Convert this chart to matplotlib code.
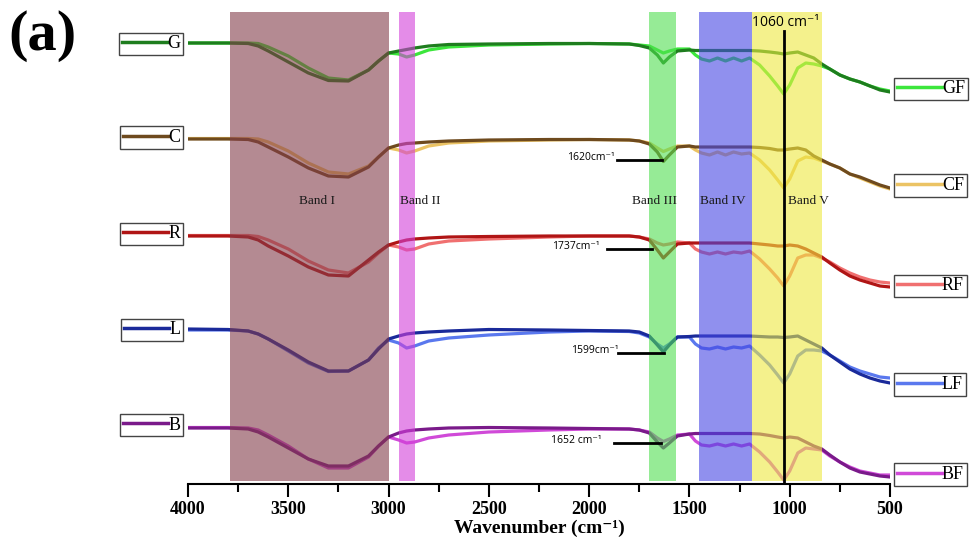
import matplotlib
matplotlib.use("Agg")
import matplotlib.pyplot as plt
from matplotlib.lines import Line2D
from matplotlib.ticker import MultipleLocator

# wavenumber grid (cm-1) shared by all spectra
wn = [4000, 3800, 3700, 3650, 3600, 3500, 3400, 3300, 3200, 3100, 3050, 3000,
      2950, 2910, 2870, 2800, 2700, 2500, 2200, 2000, 1800, 1750, 1700, 1660,
      1630, 1600, 1560, 1500, 1470, 1440, 1400, 1360, 1320, 1280, 1240, 1200,
      1150, 1100, 1060, 1030, 1000, 960, 920, 880, 840, 800, 750, 700, 650,
      600, 550, 500]

# stacked spectra, offset units (larger = lower on the plot)
G = [43, 43, 43.5, 46, 51, 62, 73, 80.5, 81, 70, 61, 53,
     51, 49.5, 48, 46, 44.5, 44, 43.5, 43.5, 44, 45.5, 48, 55,
     63, 57, 51, 50, 50.5, 50.5, 50.5, 50.5, 50.5, 50.5, 50.5, 50.5,
     51, 52, 53, 54, 53, 52, 55, 58, 64, 69, 75, 79, 82,
     86, 90, 92]
GF = [43, 43, 43, 43.5, 47, 56, 68, 78, 80, 70, 61, 53,
      54, 57, 55, 50, 47, 45, 44, 43.5, 44, 45, 46, 50,
      53, 51, 49, 49, 55, 59, 61, 58, 61, 58, 61, 58,
      65, 76, 86, 94, 85, 68, 63, 64, 66, 69, 75, 79, 82,
      86, 89, 91]
C = [139, 139, 139.5, 142, 147, 157, 168, 176, 177, 167, 157, 148,
     145, 143.5, 143, 142, 141, 140, 139.5, 139.5, 140, 141, 144, 152,
     161.5, 155, 147, 146, 147, 147, 147, 147, 147, 147, 147, 147,
     147.5, 148.5, 150, 150, 149, 148, 150, 156, 160, 164, 168, 174, 177,
     181, 185, 188]
CF = [138.5, 138.5, 138.5, 139, 142, 151, 163, 172, 174, 166, 157, 148,
      150, 153, 151, 146, 143, 141, 140, 139.5, 140, 141, 143, 148,
      151.5, 149, 146, 146, 150, 153, 155, 152, 155, 152, 154, 153,
      160, 170, 180, 188, 179, 161, 157, 158, 161, 164, 168, 174, 178,
      182, 186, 189]
R = [236, 236, 237, 240, 246, 256, 267, 275, 276, 260, 252, 245,
     242, 240, 239, 238, 237, 236.5, 236, 236, 236, 237, 240, 250,
     258, 252, 244, 243, 243, 243, 243, 243, 243, 243, 243, 243,
     244, 245, 246, 246, 245, 246, 249, 253, 257, 263, 270, 276, 280,
     283, 286, 287]
RF = [235.5, 235.5, 235.5, 236.5, 240, 249, 261, 270, 273, 262, 253, 245,
      247, 250, 249, 244, 241, 239, 237, 236, 236, 237, 239, 243,
      245, 244, 242, 243, 249, 252, 254, 252, 254, 252, 253, 251,
      259, 269, 278, 286, 276, 258, 255, 255, 258, 262, 268, 273, 277,
      280, 282, 283]
L = [329, 329.5, 331, 334, 339, 350, 362, 371, 371, 360, 349, 339,
     336, 334, 333, 332, 331, 329.5, 330, 330.5, 331, 332, 336, 345,
     352, 345, 337, 336.5, 336, 336, 336, 336, 336, 336, 336, 336,
     336.5, 337, 337, 337.5, 337, 336, 340, 344, 348, 355, 362, 369, 374,
     378, 381, 383]
LF = [330, 330, 331, 334, 339, 351, 363, 371.5, 371, 360, 348, 340,
      343, 348, 346, 341, 338, 335, 332, 331, 331.5, 333, 337, 344,
      348, 344, 337, 337, 344, 348, 349, 347, 349, 347, 348, 346,
      355, 365, 375, 383, 374, 356, 350, 350, 351, 355, 361, 367, 371,
      374, 377, 378]
B = [428, 428, 429, 432, 437, 448, 459, 466, 466, 456, 446, 437,
     433, 431, 430, 429, 428, 427.5, 428, 428.5, 429, 430, 433, 442,
     448, 443, 436, 434, 433.5, 433.5, 433.5, 433.5, 433.5, 433.5, 433.5, 433.5,
     434, 435.5, 437, 438, 437, 438, 442, 446, 449, 455, 462, 468, 472,
     474, 476, 477]
BF = [427.5, 427.5, 428, 430, 435, 446, 459, 468, 468, 457, 446, 437,
      440, 443, 442, 438, 435, 432, 430, 429, 429, 430, 432, 438,
      441.5, 439, 435, 434, 441, 445, 446, 444, 446, 444, 446, 444,
      452, 462, 472, 480, 471, 453, 448, 449, 450, 456, 462, 467, 471,
      473, 475, 475]

names = ["G", "C", "R", "L", "B"]
raw = [G, C, R, L, B]
treated = [GF, CF, RF, LF, BF]
raw_colors = ["#1e7d1e", "#6e4a1e", "#b01515", "#1a2a9a", "#7a1a8a"]
treated_colors = ["#3ce63c", "#ebc364", "#f07070", "#5a78ee", "#d04ad8"]

# spectral bands (start, end, label, label position)
band_start = [3790, 2950, 1700, 1450, 1190]
band_end = [3000, 2870, 1565, 1190, 840]
band_names = ["Band I", "Band II", "Band III", "Band IV", "Band V"]
band_label_x = [3357, 2843, 1672, 1333, 909]
band_colors = ["#823c49", "#d23fd9", "#50de50", "#4646e3", "#eee93f"]

# peak annotations: text, y level, line start, line end
peak_text = ["1620cm⁻¹", "1737cm⁻¹", "1599cm⁻¹", "1652 cm⁻¹"]
peak_y = [160, 248.5, 352.5, 442.5]
peak_line_from = [1861, 1911, 1856, 1876]
peak_line_to = [1637, 1687, 1627, 1642]
peak_text_x = [1871, 1946, 1856, 1936]

serif = ["Liberation Serif", "DejaVu Serif"]
sans = ["Open Sans", "DejaVu Sans"]

W, H = 976, 540
fig = plt.figure(figsize=(W / 100, H / 100), dpi=100)
ax = fig.add_axes([188 / W, 1 - 484 / H, (890 - 188) / W, (484 - 12) / H])
ax.set_xlim(4000, 500)
ax.set_ylim(484, 12)

for i in range(5):
    ax.plot(wn, treated[i], color=treated_colors[i], lw=2.3, zorder=2,
            solid_joinstyle="round")
    ax.plot(wn, raw[i], color=raw_colors[i], lw=2.3, zorder=2,
            solid_joinstyle="round")

for s, e, c in zip(band_start, band_end, band_colors):
    ax.axvspan(s, e, ymin=0.0064, ymax=1, color=c, alpha=0.6, lw=0, zorder=3)

for x, t in zip(band_label_x, band_names):
    ax.text(x, 201, t, ha="center", va="center", fontsize=9.5,
            family=serif, color="#1a1a1a", zorder=5)

ax.axvline(1030, ymin=0, ymax=0.96, color="black", lw=2, zorder=6)
ax.text(1019, 23, "1060 cm⁻¹", ha="center", va="center", fontsize=10,
        family=sans, zorder=6)

for t, y, x0, x1, tx in zip(peak_text, peak_y, peak_line_from, peak_line_to, peak_text_x):
    ax.plot([x0, x1], [y, y], color="black", lw=2, zorder=6)
    ax.text(tx, y - 2, t, ha="right", va="center", fontsize=7.5,
            family=sans, zorder=6)

for sp in ["left", "right", "top"]:
    ax.spines[sp].set_visible(False)
ax.spines["bottom"].set_linewidth(1.5)
ax.set_yticks([])
ax.xaxis.set_major_locator(MultipleLocator(500))
ax.xaxis.set_minor_locator(MultipleLocator(250))
ax.tick_params(axis="x", which="major", length=9, width=1.5, direction="out")
ax.tick_params(axis="x", which="minor", length=6, width=1.5, direction="out")
for lab in ax.get_xticklabels():
    lab.set_fontfamily(serif)
    lab.set_fontweight("bold")
    lab.set_fontsize(13)
ax.set_xlabel("Wavenumber (cm⁻¹)", fontsize=14, fontweight="bold",
              family=serif, labelpad=1)

# legend boxes: raw on the left, treated on the right
left_y = [44, 137.5, 234, 330, 425]
right_y = [89, 185.5, 286, 384.5, 474.5]
for i in range(5):
    h = Line2D([], [], color=raw_colors[i], lw=2.5)
    fig.legend([h], [names[i]], loc="center right",
               bbox_to_anchor=(183 / W, 1 - left_y[i] / H),
               fancybox=False, edgecolor="#444444", framealpha=1,
               borderpad=0.15, handlelength=2.5, handletextpad=0.0,
               borderaxespad=0, prop={"family": serif, "size": 13})
    h2 = Line2D([], [], color=treated_colors[i], lw=2.5)
    fig.legend([h2], [names[i] + "F"], loc="center left",
               bbox_to_anchor=(894 / W, 1 - right_y[i] / H),
               fancybox=False, edgecolor="#444444", framealpha=1,
               borderpad=0.15, handlelength=2.5, handletextpad=0.0,
               borderaxespad=0, prop={"family": serif, "size": 13})

fig.text(8 / W, 1 - 36 / H, "(a)", fontsize=42, fontweight="bold",
         family=serif, va="center", ha="left")

fig.savefig("out.png", dpi=100)
